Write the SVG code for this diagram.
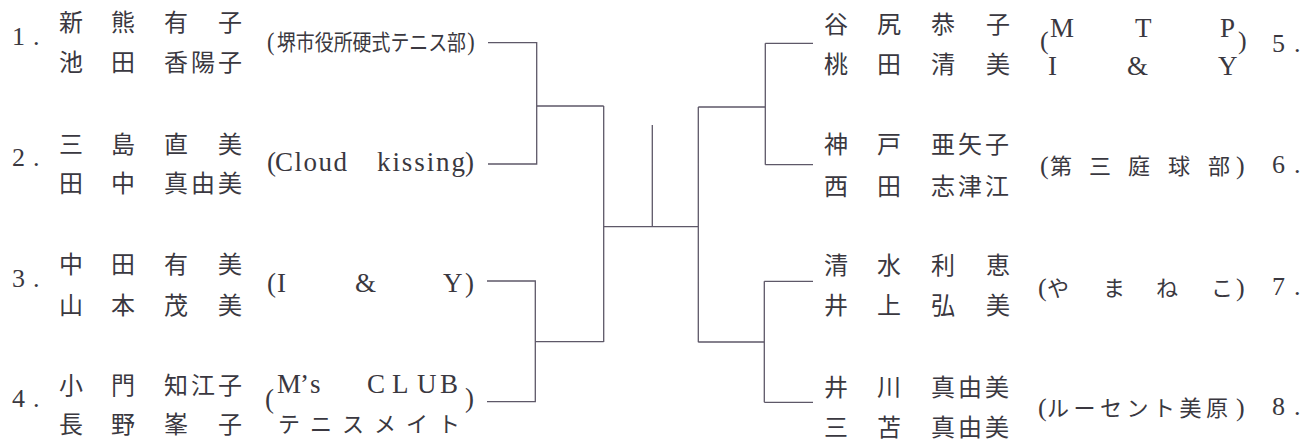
<svg xmlns="http://www.w3.org/2000/svg" width="1311" height="443" viewBox="0 0 1311 443">
<style>
.bg{fill:#ffffff}
.jp{font-family:"Noto Sans CJK JP","Noto Sans CJK SC",sans-serif;font-size:24px;fill:#3a3840}
.cl{font-family:"Noto Sans CJK JP","Noto Sans CJK SC",sans-serif;font-size:22px;fill:#3a3840}
.lt{font-family:"Liberation Serif",serif;font-size:27px;fill:#3a3840}
.pr{font-family:"Liberation Serif",serif;font-size:26px;fill:#3a3840}
.num{font-family:"Liberation Serif",serif;font-size:26px;fill:#3a3840}
.ln{fill:none;stroke:#5e5868;stroke-width:1.3}
</style>
<rect class="bg" x="0" y="0" width="1311" height="443"/>

<g id="connectors">
<path class="ln" d="M488,42.7H536.7V164H488M536.7,106H603.7M603.7,106V342M487,281H535.3V401.7H487M535.3,341.7H603.7M603.7,226.7H698.3M652.3,125V226.7M698.3,107V342.3M698.3,107H765.3M765.3,43.3V164.7M765.3,43.3H813M765.3,164.7H813M698.3,342H764.3M764.3,281.3V402.3M764.3,281.3H813M764.3,402.3H813"/>
</g>

<g id="team1">
<text class="num" x="12 33" y="45">1.</text>
<text class="jp" x="59 111 164 218" y="31">新熊有子</text>
<text class="jp" x="59 111 164 191 218" y="71">池田香陽子</text>
<text class="cl" transform="translate(267,50) scale(0.86,1)"><tspan class="pr" x="0">(</tspan><tspan x="11.6">堺市役所硬式テニス部</tspan><tspan class="pr" x="233">)</tspan></text>
</g>

<g id="team2">
<text class="num" x="12 33" y="166">2.</text>
<text class="jp" x="59 111 164 218" y="153">三島直美</text>
<text class="jp" x="59 111 164 191 218" y="192">田中真由美</text>
<text class="lt" x="267" y="171">(</text>
<text class="lt" x="275" y="171" textLength="72" lengthAdjust="spacing">Cloud</text>
<text class="lt" x="377" y="171" textLength="88" lengthAdjust="spacing">kissing</text>
<text class="lt" x="465" y="171">)</text>
</g>

<g id="team3">
<text class="num" x="12 33" y="287">3.</text>
<text class="jp" x="59 111 164 218" y="273">中田有美</text>
<text class="jp" x="59 111 164 218" y="314">山本茂美</text>
<text class="lt" x="267 277 355 443 465" y="292">(I&amp;Y)</text>
</g>

<g id="team4">
<text class="num" x="12 33" y="407">4.</text>
<text class="jp" x="59 111 164 191 218" y="394">小門知江子</text>
<text class="jp" x="59 111 164 218" y="433">長野峯子</text>
<text class="lt" x="265" y="408" font-size="30">(</text>
<text class="lt" x="277 300 310 340 367 392 417 440" y="393" font-size="26">M’s CLUB</text>
<text class="cl" x="278 310 342 374 406 438" y="432" font-size="21">テニスメイト</text>
<text class="lt" x="465" y="407" font-size="30">)</text>
</g>

<g id="team5">
<text class="jp" x="824 877 931 986" y="33">谷尻恭子</text>
<text class="jp" x="824 877 931 986" y="73">桃田清美</text>
<text class="pr" x="1040" y="49">(</text>
<text class="lt" x="1050 1135 1220" y="37" font-size="26">MTP</text>
<text class="lt" x="1048 1127 1218" y="75" font-size="26">I&amp;Y</text>
<text class="pr" x="1238" y="49">)</text>
<text class="num" x="1272 1294" y="52">5.</text>
</g>

<g id="team6">
<text class="jp" x="824 877 931 958 985" y="153">神戸亜矢子</text>
<text class="jp" x="824 877 931 958 985" y="195">西田志津江</text>
<text class="pr" x="1040" y="174">(</text>
<text class="cl" x="1050 1089 1128 1168 1208" y="174">第三庭球部</text>
<text class="pr" x="1236" y="174">)</text>
<text class="num" x="1272 1294" y="173">6.</text>
</g>

<g id="team7">
<text class="jp" x="824 877 931 986" y="274">清水利恵</text>
<text class="jp" x="824 877 931 986" y="314">井上弘美</text>
<text class="pr" x="1038" y="296">(</text>
<text class="cl" x="1047 1103 1156 1211" y="296">やまねこ</text>
<text class="pr" x="1236" y="296">)</text>
<text class="num" x="1272 1294" y="295">7.</text>
</g>

<g id="team8">
<text class="jp" x="824 877 931 958 985" y="396">井川真由美</text>
<text class="jp" x="824 877 931 958 985" y="436">三苫真由美</text>
<text class="pr" x="1038" y="416">(</text>
<text class="cl" x="1047 1073.5 1100 1126.5 1153 1179.5 1206" y="416">ルーセント美原</text>
<text class="pr" x="1236" y="416">)</text>
<text class="num" x="1272 1294" y="415">8.</text>
</g>
</svg>
